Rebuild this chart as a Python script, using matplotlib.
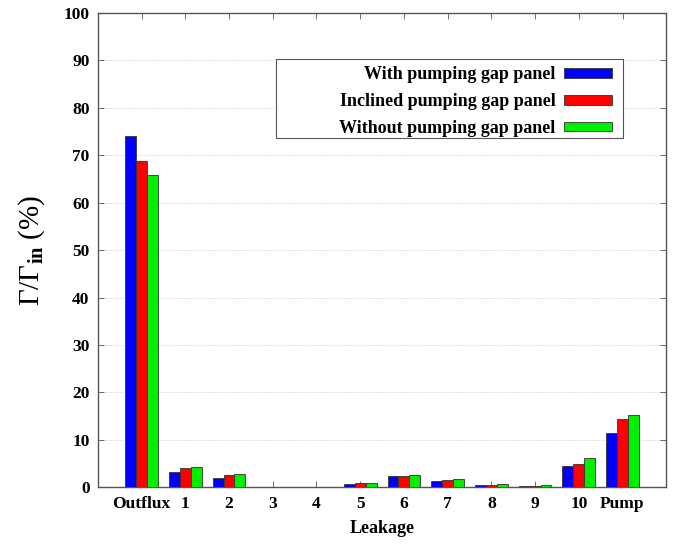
import matplotlib
matplotlib.use("Agg")
import matplotlib.pyplot as plt
from matplotlib.patches import Rectangle
import numpy as np

categories = ["Outflux", "1", "2", "3", "4", "5", "6", "7", "8", "9", "10", "Pump"]
series_names = ["With pumping gap panel", "Inclined pumping gap panel", "Without pumping gap panel"]
with_panel = [74.0, 3.3, 2.0, 0.1, 0.1, 0.7, 2.4, 1.4, 0.5, 0.3, 4.5, 11.5]
inclined_panel = [68.8, 4.1, 2.6, 0.1, 0.1, 0.8, 2.4, 1.5, 0.55, 0.35, 5.0, 14.4]
without_panel = [65.9, 4.3, 2.8, 0.1, 0.1, 0.9, 2.5, 1.7, 0.6, 0.45, 6.2, 15.2]
colors = ["#0000ff", "#ff0000", "#00ee00"]
yticks = list(range(0, 101, 10))

plt.rcParams["font.family"] = ["Liberation Serif", "DejaVu Serif"]
plt.rcParams["mathtext.fontset"] = "custom"
plt.rcParams["mathtext.rm"] = "Liberation Serif"
plt.rcParams["mathtext.bf"] = "Liberation Serif:bold"
plt.rcParams["mathtext.it"] = "Liberation Serif:italic"

fig = plt.figure(figsize=(6.75, 5.45), dpi=100)
ax = fig.add_axes([0.145, 0.106, 0.842, 0.870])

x = np.arange(len(categories))
width = 0.25
for i, (vals, name, c) in enumerate(zip([with_panel, inclined_panel, without_panel], series_names, colors)):
    ax.bar(x + (i - 1) * width, vals, width, color=c, edgecolor="#333333",
           linewidth=0.6, label=name, zorder=3)

ax.set_xlim(-1, len(categories))
ax.set_ylim(0, 100)
ax.set_yticks(yticks)
ax.set_xticks(x)
ax.set_xticklabels(categories)
for lab in ax.get_xticklabels() + ax.get_yticklabels():
    lab.set_fontweight("bold")
    lab.set_fontsize(12.5)

ax.tick_params(direction="in", top=True, right=True, length=4, width=0.6,
               color="#555555", pad=6)
ax.yaxis.grid(True, color="#cccccc", linestyle=(0, (1, 1.5)), linewidth=0.7, zorder=0)
ax.set_axisbelow(True)
for s in ax.spines.values():
    s.set_color("#555555")
    s.set_linewidth(1.0)

ax.set_xlabel("Leakage", fontsize=13, fontweight="bold", labelpad=6)
ax.set_ylabel(r"$\Gamma/\Gamma_{\mathbf{in}}\ (\%)$", fontsize=21, labelpad=12)

# legend box drawn as a separate frame, entries right-aligned inside it
frame = Rectangle((0.313, 0.736), 0.611, 0.167, transform=ax.transAxes,
                  facecolor="white", edgecolor="#555555", linewidth=0.8, zorder=4)
ax.add_patch(frame)
leg = ax.legend(loc="upper right", bbox_to_anchor=(0.905, 0.888), markerfirst=False,
                frameon=False, prop={"weight": "bold", "size": 13}, handlelength=2.65,
                handleheight=0.45, labelspacing=0.55, borderpad=0,
                handletextpad=0.5, borderaxespad=0)
leg.set_zorder(5)
for t in leg.get_texts():
    t.set_ha("right")
leg._legend_box.align = "right"

fig.savefig("out.png", dpi=100)
